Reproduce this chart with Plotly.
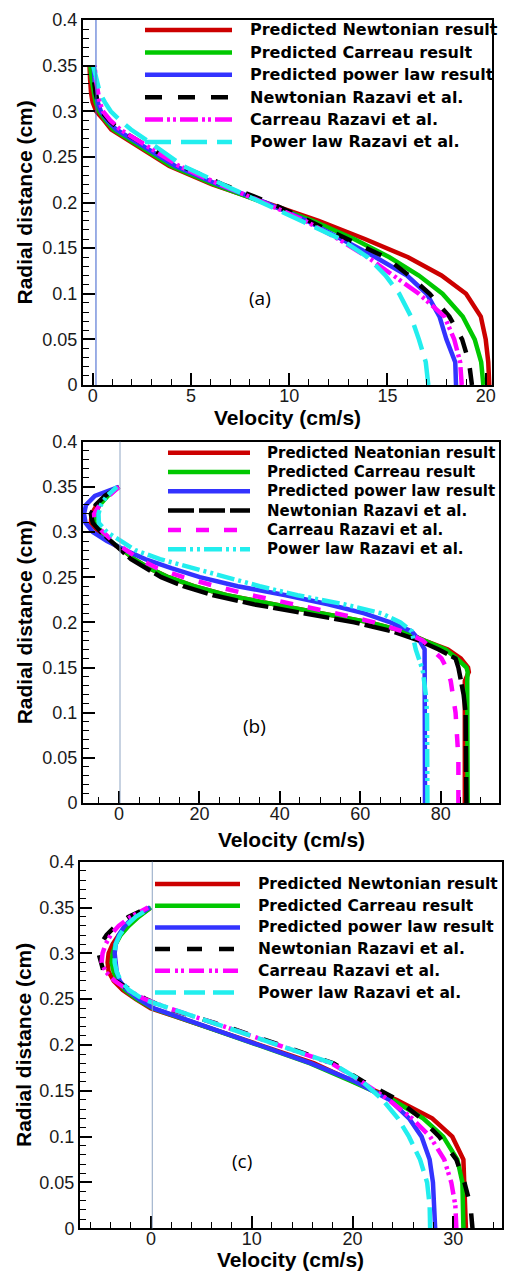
import plotly.graph_objects as go

W, H = 508, 1271

# ---------------- data ----------------
# radial positions (cm) shared by all curves of a panel
radius_a = [0.0, 0.025, 0.05, 0.075, 0.1, 0.12, 0.14, 0.16, 0.18, 0.2, 0.22, 0.24,
            0.26, 0.28, 0.29, 0.3, 0.31, 0.32, 0.335, 0.35]
radius_b = [0.0, 0.05, 0.1, 0.12, 0.135, 0.145, 0.15, 0.16, 0.17, 0.18, 0.19, 0.2, 0.21,
            0.22, 0.23, 0.24, 0.25, 0.26, 0.27, 0.28, 0.29, 0.3, 0.31, 0.32, 0.33, 0.34, 0.35]
radius_c = [0.0, 0.025, 0.05, 0.075, 0.1, 0.12, 0.14, 0.16, 0.18, 0.2, 0.22, 0.24, 0.25,
            0.26, 0.27, 0.28, 0.29, 0.3, 0.31, 0.32, 0.33, 0.34, 0.35]

# velocity (cm/s), panel (a)
a_newt_pred = [20.18, 20.13, 20.0, 19.75, 19.0, 17.75, 16.05, 13.85, 11.5, 8.85, 6.05, 3.9,
               2.4, 0.95, 0.58, 0.18, 0.0, -0.08, -0.13, -0.16]
a_carr_pred = [19.88, 19.77, 19.44, 18.83, 17.8, 16.6, 15.1, 13.3, 11.2, 8.75, 6.15, 4.0,
               2.55, 1.05, 0.65, 0.32, 0.15, 0.05, -0.05, -0.12]
a_pow_pred = [18.49, 18.45, 18.0, 17.65, 17.0, 16.0, 14.4, 12.7, 10.9, 8.8, 6.35, 4.2,
              2.7, 1.2, 0.75, 0.42, 0.26, 0.16, 0.1, 0.05]
a_newt_raz = [19.3, 19.15, 18.8, 18.15, 17.15, 16.1, 14.9, 13.0, 11.0, 9.0, 6.6, 4.5,
              2.9, 1.35, 0.85, 0.42, 0.26, 0.15, 0.06, 0.0]
a_carr_raz = [18.78, 18.7, 18.4, 17.9, 16.6, 15.3, 14.0, 12.5, 10.8, 8.7, 6.45, 4.4,
              2.85, 1.4, 0.9, 0.52, 0.36, 0.26, 0.16, 0.1]
a_pow_raz = [17.08, 16.95, 16.6, 16.2, 15.6, 14.9, 14.0, 12.6, 10.6, 8.6, 6.55, 4.6,
             3.3, 1.95, 1.4, 0.92, 0.62, 0.37, 0.2, 0.03]

# velocity (cm/s), panel (b)
b_newt_pred = [86.0, 86.0, 86.0, 86.0, 86.0, 87.0, 86.8, 85.0, 81.8, 75.8, 70.8, 62.3, 50.6,
               37.9, 26.8, 18.6, 12.3, 7.5, 3.8, 0.9, -2.5, -5.0, -7.0, -6.8, -5.5, -3.2, 0.0]
b_carr_pred = [86.7, 86.6, 86.5, 86.5, 86.6, 86.7, 86.4, 84.0, 81.2, 75.8, 70.8, 62.3, 50.6,
               37.9, 26.8, 18.6, 12.3, 7.5, 3.8, 1.05, -2.3, -4.3, -6.1, -6.0, -4.8, -2.8, 0.0]
b_pow_pred = [76.1, 76.1, 76.1, 76.1, 76.1, 76.1, 76.1, 76.1, 76.0, 74.7, 72.8, 67.5, 61.0,
              52.0, 41.5, 29.5, 20.1, 13.0, 6.5, 1.5, -3.0, -6.5, -8.3, -8.7, -8.2, -6.0, 0.0]
b_newt_raz = [86.4, 86.4, 86.2, 85.7, 85.1, 84.7, 84.4, 83.7, 79.5, 74.5, 68.0, 58.5, 46.0,
              33.5, 23.5, 16.0, 10.5, 6.5, 3.0, 0.5, -2.0, -4.5, -6.5, -7.0, -5.8, -3.5, 0.0]
b_carr_raz = [84.4, 84.4, 83.7, 83.1, 82.5, 81.8, 81.4, 80.2, 78.0, 75.5, 70.5, 63.5, 54.0,
              43.0, 33.0, 24.0, 16.0, 9.5, 5.0, 1.8, -1.5, -4.0, -6.0, -6.2, -4.8, -2.5, 0.0]
b_pow_raz = [76.7, 76.7, 76.6, 76.3, 76.0, 75.6, 75.3, 74.5, 73.8, 73.3, 72.8, 70.0, 65.3,
             56.0, 44.4, 35.0, 26.7, 18.6, 10.2, 4.0, 0.5, -3.0, -5.0, -5.1, -4.5, -3.0, -0.5]

# velocity (cm/s), panel (c)
c_newt_pred = [31.25, 31.2, 31.1, 31.0, 29.9, 27.9, 24.4, 20.1, 16.2, 10.7, 5.3, 0.0, -1.5,
               -2.8, -3.7, -4.2, -4.3, -4.2, -3.8, -3.2, -2.4, -1.3, 0.0]
c_carr_pred = [31.0, 31.0, 30.9, 30.4, 29.0, 27.0, 24.0, 20.0, 15.8, 10.6, 5.3, 0.2, -1.4,
               -2.6, -3.3, -3.7, -3.9, -3.8, -3.5, -3.0, -2.2, -1.2, 0.0]
c_pow_pred = [28.2, 28.1, 27.98, 27.65, 26.85, 25.6, 23.7, 20.3, 15.9, 10.7, 5.5, 0.3, -1.2,
              -2.4, -3.1, -3.4, -3.5, -3.6, -3.5, -3.2, -2.6, -1.7, -0.1]
c_newt_raz = [31.9, 31.7, 31.1, 30.3, 28.6, 26.8, 24.5, 21.1, 18.1, 12.8, 7.5, 1.6, -0.5,
              -2.0, -3.5, -4.7, -5.0, -5.2, -5.0, -4.4, -3.5, -2.2, -0.3]
c_carr_raz = [30.3, 30.2, 29.8, 29.1, 27.7, 25.9, 23.6, 20.9, 17.9, 12.7, 7.3, 1.8, -0.6,
              -2.3, -3.6, -4.5, -4.9, -4.8, -4.5, -4.0, -3.2, -2.0, -0.3]
c_pow_raz = [27.7, 27.65, 27.4, 26.7, 25.6, 24.5, 23.0, 21.0, 18.0, 12.6, 7.2, 1.7, -0.8,
             -2.2, -3.0, -3.4, -3.6, -3.6, -3.5, -3.1, -2.5, -1.5, 0.0]

labels_a = ["Predicted Newtonian result", "Predicted Carreau result",
            "Predicted power law result", "Newtonian Razavi et al.",
            "Carreau Razavi et al.", "Power law Razavi et al."]
labels_b = ["Predicted Neatonian result", "Predicted Carreau result",
            "Predicted power law result", "Newtonian Razavi et al.",
            "Carreau Razavi et al.", "Power law Razavi et al."]
labels_c = labels_a

panel_tags = ["(a)", "(b)", "(c)"]
zero_marker = [0.17, 0.25, 0.13]
x_title = "Velocity (cm/s)"
y_title = "Radial distance (cm)"

# ---------------- styles ----------------
RED, GREEN, BLUE = "#cc0000", "#00c800", "#3333ff"
BLACK, MAGENTA, CYAN = "#000000", "#ff00ff", "#22eeee"
LW = 4.5

styles_a = [(RED, "solid"), (GREEN, "solid"), (BLUE, "solid"),
            (BLACK, "17px,16px"), (MAGENTA, "18px,4px,3px,3px,3px,4px"),
            (CYAN, "26px,10px")]
styles_b = [(RED, "solid"), (GREEN, "solid"), (BLUE, "solid"),
            (BLACK, "26px,5px"), (MAGENTA, "13px,15px"),
            (CYAN, "18px,4px,3px,4px,3px,4px")]
styles_c = [(RED, "solid"), (GREEN, "solid"), (BLUE, "solid"),
            (BLACK, "15px,17px"), (MAGENTA, "15px,5px,3px,3px,3px,5px"),
            (CYAN, "21px,8px")]

panels = [
    dict(r=radius_a, v=[a_newt_pred, a_carr_pred, a_pow_pred, a_newt_raz, a_carr_raz, a_pow_raz],
         labels=labels_a, styles=styles_a,
         px=(83, 492), py=(20, 385), xrange=[-0.49, 20.32], dtick=5, minor=1,
         tag_xy=(8.5, 0.095), xt_y=417.5, yt_x=24,
         key=dict(x0=145, x1=232, tx=248, top=30, step=22.4, size=16)),
    dict(r=radius_b, v=[b_newt_pred, b_carr_pred, b_pow_pred, b_newt_raz, b_carr_raz, b_pow_raz],
         labels=labels_b, styles=styles_b,
         px=(83, 499), py=(441.7, 803), xrange=[-8.95, 94.5], dtick=20, minor=5,
         tag_xy=(33.6, 0.085), xt_y=839, yt_x=24,
         key=dict(x0=168, x1=250, tx=265, top=452.7, step=19.3, size=15)),
    dict(r=radius_c, v=[c_newt_pred, c_carr_pred, c_pow_pred, c_newt_raz, c_carr_raz, c_pow_raz],
         labels=labels_c, styles=styles_c,
         px=(80, 501.7), py=(861.7, 1228.3), xrange=[-7.04, 34.8], dtick=10, minor=2,
         tag_xy=(9.0, 0.073), xt_y=1259.5, yt_x=23,
         key=dict(x0=155, x1=240, tx=256, top=884, step=21.7, size=15.5)),
]

fig = go.Figure()
TICK_FONT = dict(family="Liberation Sans, Arial, sans-serif", size=18, color="#1a1a1a")
TITLE_FONT = dict(family="Liberation Sans, Arial, sans-serif", size=21, color="#000000",
                  weight="bold")
KEY_FONT = "DejaVu Sans, Verdana, sans-serif"

for k, p in enumerate(panels):
    n = "" if k == 0 else str(k + 1)
    xa, ya = "x" + n, "y" + n
    for vel, lab, (col, dash) in zip(p["v"], p["labels"], p["styles"]):
        fig.add_trace(go.Scatter(x=vel, y=p["r"], mode="lines", name=lab,
                                 line=dict(color=col, width=LW, dash=dash),
                                 xaxis=xa, yaxis=ya, showlegend=False))

    common = dict(showline=True, linecolor="black", linewidth=2, mirror=True,
                  showgrid=False, zeroline=False, ticks="inside", ticklen=12,
                  tickwidth=1.5, tickcolor="black", tickfont=TICK_FONT,
                  automargin=False)
    fig.layout["xaxis" + n] = dict(
        domain=[p["px"][0] / W, p["px"][1] / W], anchor=ya, range=p["xrange"],
        tick0=0, dtick=p["dtick"], ticklabelstandoff=-7,
        minor=dict(ticks="inside", ticklen=6, tickwidth=1.2, tickcolor="black",
                   dtick=p["minor"], tick0=0), **common)
    fig.layout["yaxis" + n] = dict(
        domain=[1 - p["py"][1] / H, 1 - p["py"][0] / H], anchor=xa, range=[0, 0.4],
        tick0=0, dtick=0.05,
        minor=dict(ticks="inside", ticklen=6, tickwidth=1.2, tickcolor="black",
                   dtick=0.01, tick0=0), **common)

    # axis titles
    fig.add_annotation(xref="paper", yref="paper", x=(p["px"][0] + p["px"][1]) / 2 / W,
                       y=1 - p["xt_y"] / H, text=x_title, showarrow=False,
                       xanchor="center", yanchor="middle", font=TITLE_FONT)
    fig.add_annotation(xref="paper", yref="paper", x=p["yt_x"] / W,
                       y=1 - (p["py"][0] + p["py"][1]) / 2 / H, text=y_title,
                       showarrow=False, textangle=-90, xanchor="center",
                       yanchor="middle", font=TITLE_FONT)

    # thin reference line near zero velocity
    fig.add_shape(type="line", xref=xa, yref=ya + " domain", x0=zero_marker[k],
                  x1=zero_marker[k], y0=0, y1=1,
                  line=dict(color="#3a5fcd" if k == 0 else "#8fa6c4", width=1))

    fig.add_annotation(xref=xa, yref=ya, x=p["tag_xy"][0], y=p["tag_xy"][1],
                       text=panel_tags[k], showarrow=False,
                       font=dict(family="Open Sans, sans-serif", size=19, color="black"))

    kk = p["key"]
    for i, (lab, (col, dash)) in enumerate(zip(p["labels"], p["styles"])):
        yc = 1 - (kk["top"] + i * kk["step"]) / H
        fig.add_shape(type="line", xref="paper", yref="paper",
                      x0=kk["x0"] / W, x1=kk["x1"] / W, y0=yc, y1=yc,
                      line=dict(color=col, width=LW, dash=dash))
        fig.add_annotation(xref="paper", yref="paper", x=kk["tx"] / W, y=yc,
                           text=lab, showarrow=False, xanchor="left", yanchor="middle",
                           font=dict(family=KEY_FONT, size=kk["size"], color="black",
                                     weight="bold"))

fig.update_layout(width=W, height=H, margin=dict(l=0, r=0, t=0, b=0, autoexpand=False),
                  plot_bgcolor="white", paper_bgcolor="white", showlegend=False)

fig.write_html("out.html")
